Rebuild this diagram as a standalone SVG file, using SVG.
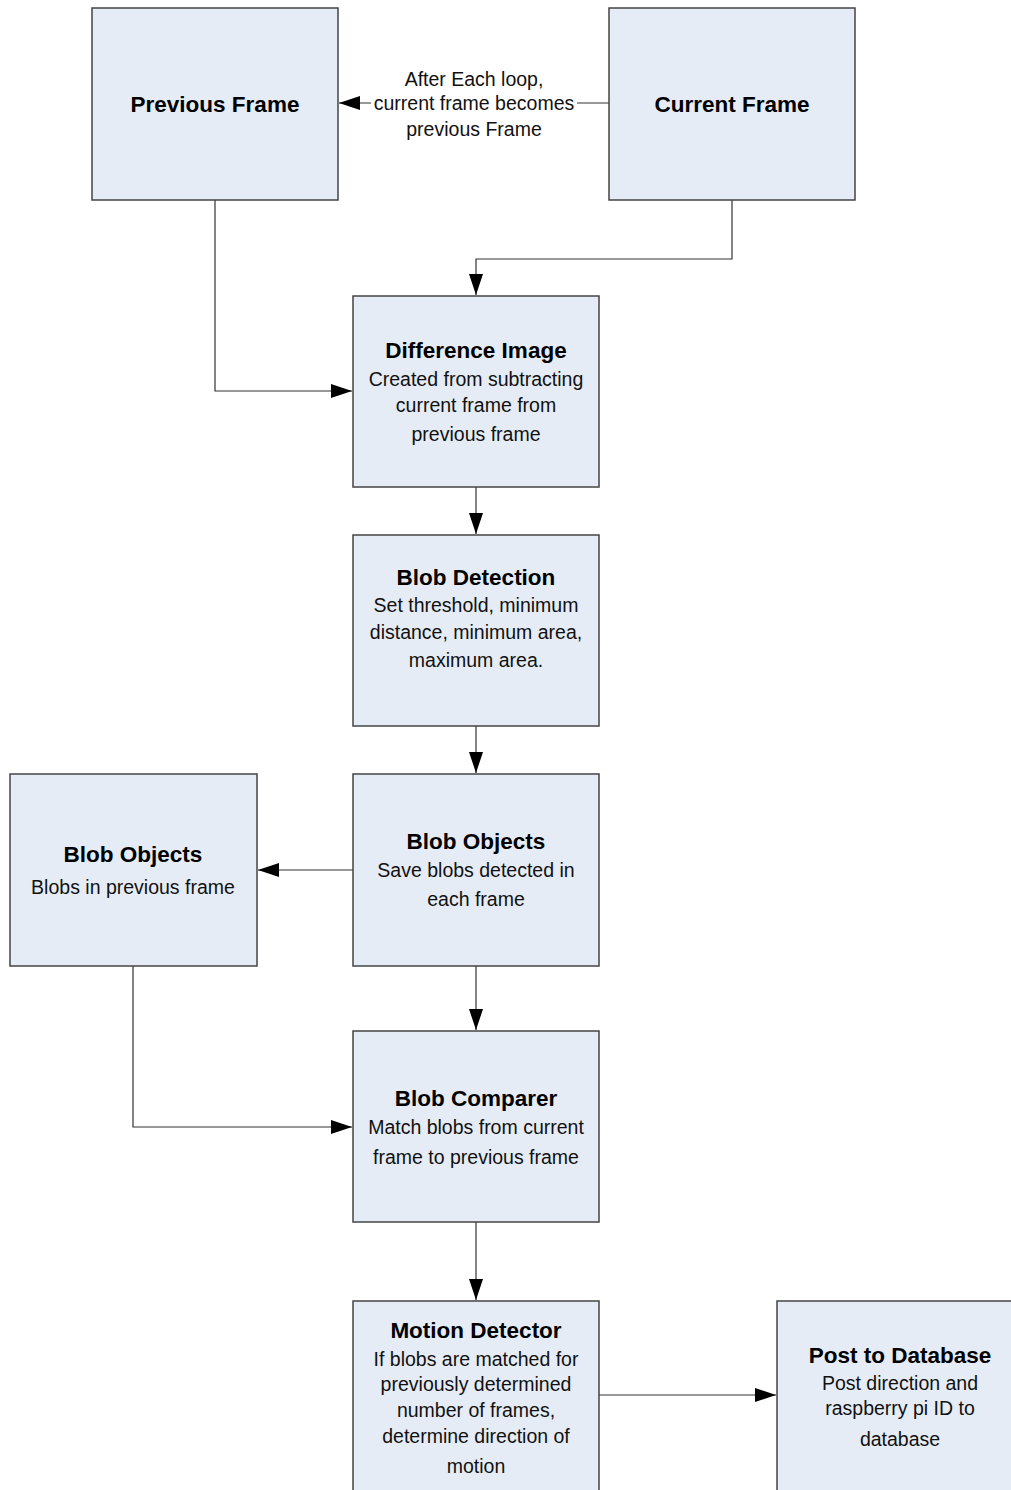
<svg xmlns="http://www.w3.org/2000/svg" width="1011" height="1490" viewBox="0 0 1011 1490">
<style>
.box{fill:#e6ecf6;stroke:#444;stroke-width:1.5}
.t{font-family:"Liberation Sans",Arial,sans-serif;font-weight:bold;font-size:22.5px;fill:#000;text-anchor:middle}
.b{font-family:"Liberation Sans",Arial,sans-serif;font-size:19.5px;fill:#111;text-anchor:middle}
.c{fill:none;stroke:#333;stroke-width:1.2}
</style>
<defs>
<marker id="ah" markerUnits="userSpaceOnUse" markerWidth="24" markerHeight="24" viewBox="0 0 24 24" refX="22" refY="12" orient="auto">
<path d="M1,5 L22,12 L1,19 Z" fill="#000"/>
</marker>
</defs>
<rect width="1011" height="1490" fill="#fff"/>
<g id="connectors">
<line class="c" x1="609" y1="103" x2="339" y2="103" marker-end="url(#ah)"/>
<rect x="371" y="66" width="206" height="78" fill="#fff"/>
<text class="b" x="474" y="86">After Each loop,</text>
<text class="b" x="474" y="110">current frame becomes</text>
<text class="b" x="474" y="136">previous Frame</text>
<polyline class="c" points="732,200 732,259 476,259 476,295" marker-end="url(#ah)"/>
<polyline class="c" points="215,200 215,391 352,391" marker-end="url(#ah)"/>
<line class="c" x1="476" y1="487" x2="476" y2="534" marker-end="url(#ah)"/>
<line class="c" x1="476" y1="726" x2="476" y2="773" marker-end="url(#ah)"/>
<line class="c" x1="353" y1="870" x2="258" y2="870" marker-end="url(#ah)"/>
<line class="c" x1="476" y1="966" x2="476" y2="1030" marker-end="url(#ah)"/>
<polyline class="c" points="133,966 133,1127 352,1127" marker-end="url(#ah)"/>
<line class="c" x1="476" y1="1222" x2="476" y2="1300" marker-end="url(#ah)"/>
<line class="c" x1="599" y1="1395" x2="776" y2="1395" marker-end="url(#ah)"/>
</g>
<g id="previous-frame">
<rect class="box" x="92" y="8" width="246" height="192"/>
<text class="t" x="215" y="112">Previous Frame</text>
</g>
<g id="current-frame">
<rect class="box" x="609" y="8" width="246" height="192"/>
<text class="t" x="732" y="112">Current Frame</text>
</g>
<g id="difference-image">
<rect class="box" x="353" y="296" width="246" height="191"/>
<text class="t" x="476" y="358">Difference Image</text>
<text class="b" x="476" y="386">Created from subtracting</text>
<text class="b" x="476" y="412">current frame from</text>
<text class="b" x="476" y="441">previous frame</text>
</g>
<g id="blob-detection">
<rect class="box" x="353" y="535" width="246" height="191"/>
<text class="t" x="476" y="585">Blob Detection</text>
<text class="b" x="476" y="612">Set threshold, minimum</text>
<text class="b" x="476" y="639">distance, minimum area,</text>
<text class="b" x="476" y="667">maximum area.</text>
</g>
<g id="blob-objects">
<rect class="box" x="353" y="774" width="246" height="192"/>
<text class="t" x="476" y="849">Blob Objects</text>
<text class="b" x="476" y="877">Save blobs detected in</text>
<text class="b" x="476" y="906">each frame</text>
</g>
<g id="blob-objects-previous">
<rect class="box" x="10" y="774" width="247" height="192"/>
<text class="t" x="133" y="862">Blob Objects</text>
<text class="b" x="133" y="894">Blobs in previous frame</text>
</g>
<g id="blob-comparer">
<rect class="box" x="353" y="1031" width="246" height="191"/>
<text class="t" x="476" y="1106">Blob Comparer</text>
<text class="b" x="476" y="1134">Match blobs from current</text>
<text class="b" x="476" y="1164">frame to previous frame</text>
</g>
<g id="motion-detector">
<rect class="box" x="353" y="1301" width="246" height="200"/>
<text class="t" x="476" y="1338">Motion Detector</text>
<text class="b" x="476" y="1366">If blobs are matched for</text>
<text class="b" x="476" y="1391">previously determined</text>
<text class="b" x="476" y="1417">number of frames,</text>
<text class="b" x="476" y="1443">determine direction of</text>
<text class="b" x="476" y="1473">motion</text>
</g>
<g id="post-to-database">
<rect class="box" x="777" y="1301" width="246" height="200"/>
<text class="t" x="900" y="1363">Post to Database</text>
<text class="b" x="900" y="1390">Post direction and</text>
<text class="b" x="900" y="1415">raspberry pi ID to</text>
<text class="b" x="900" y="1446">database</text>
</g>
</svg>
